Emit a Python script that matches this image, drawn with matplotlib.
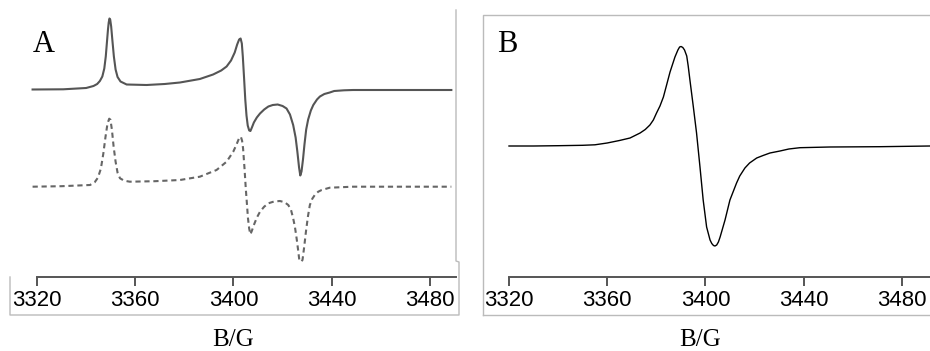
import matplotlib
matplotlib.use("Agg")
import matplotlib.pyplot as plt
from matplotlib.lines import Line2D

plt.rcParams["font.family"] = ["Liberation Sans", "DejaVu Sans"]

# field values (G) and intensities (a.u.)
# panel A, experimental trace (solid)
field_a_exp = [3318.2, 3330.7, 3340.0, 3343.0, 3344.5, 3345.6, 3346.6, 3347.4, 3348.0,
               3348.5, 3348.9, 3349.2, 3349.5, 3349.8, 3350.2, 3350.7, 3351.3, 3352.0,
               3352.8, 3354.0, 3356.5, 3364.6, 3372.0, 3378.2, 3386.3, 3391.7, 3395.0,
               3397.2, 3399.0, 3400.5, 3401.5, 3402.3, 3402.9, 3403.4, 3403.8, 3404.3,
               3404.8, 3405.3, 3405.8, 3406.4, 3406.9, 3407.5, 3408.3, 3409.5, 3410.8,
               3412.5, 3414.2, 3416.0, 3418.0, 3420.0, 3421.6, 3423.0, 3424.3, 3425.3,
               3426.0, 3426.7, 3427.2, 3427.7, 3428.3, 3428.9, 3429.6, 3430.4, 3431.5,
               3432.5, 3434.0, 3435.2, 3437.0, 3439.2, 3441.0, 3445.0, 3448.7, 3488.7]
int_a_exp = [0, 0.2, 1.5, 3.5, 5.5, 8.5, 13, 21, 33,
             48, 60, 67, 71, 70, 63, 49, 33, 20,
             12.5, 8, 5, 4.5, 5.5, 7, 10.5, 15, 19,
             23, 29, 37, 45, 50, 51, 46, 33, 12,
             -10, -26, -36, -41, -41.5, -38, -33, -28, -24,
             -20, -17, -15.5, -15, -16.5, -19, -25, -35.5, -48,
             -62, -78, -86, -82, -70, -55, -40, -30, -21,
             -15.5, -10, -7, -4.5, -3, -1.5, -0.8, -0.5, -0.5]

# panel A, simulated trace (dashed)
field_a_sim = [3318.2, 3330.0, 3341.6, 3343.5, 3344.8, 3346.0, 3347.0, 3347.9, 3348.7,
               3349.4, 3349.9, 3350.5, 3351.2, 3352.0, 3352.8, 3353.8, 3355.5, 3357.8,
               3368.0, 3378.2, 3386.3, 3393.1, 3397.2, 3399.9, 3401.2, 3402.2, 3403.0,
               3403.5, 3403.9, 3404.5, 3405.0, 3405.5, 3405.9, 3406.4, 3406.9, 3407.5,
               3408.3, 3409.5, 3410.8, 3412.5, 3414.2, 3416.5, 3418.9, 3420.8, 3422.3,
               3423.4, 3424.3, 3425.0, 3425.7, 3426.3, 3426.8, 3427.5, 3428.1, 3428.8,
               3429.5, 3430.3, 3431.1, 3432.1, 3433.1, 3434.5, 3435.9, 3439.2, 3448.7,
               3488.7]
int_a_sim = [0, 0.5, 1.7, 4.5, 9, 18, 33, 50, 63,
             68, 67, 57, 40, 25, 14, 8.4, 6, 5,
             5.5, 6.7, 10, 16.7, 25, 35, 42, 48, 50,
             46, 38.4, 18, -1.6, -18, -31.6, -42, -47.6, -44,
             -38.3, -31, -25, -20, -16.6, -14.8, -14.3, -15.5, -18.3,
             -23, -31.6, -40, -51.6, -63, -73.3, -75, -73.3, -60,
             -45, -30, -18.3, -12, -8.3, -5, -3.3, -1, 0,
             0]
sim_offset = -97.2

# panel B
field_b = [3320, 3330, 3340, 3350, 3355, 3360, 3365, 3369.3, 3373.4, 3375.5,
           3377.4, 3378.8, 3380.1, 3381.5, 3382.9, 3384.2, 3385.6, 3387.6, 3388.8,
           3389.5, 3390.1, 3390.8, 3391.5, 3392.4, 3393.0, 3393.7, 3395.1, 3396.4,
           3397.8, 3399.1, 3400.5, 3401.9, 3402.6, 3403.3, 3403.9, 3404.6, 3405.3,
           3406.0, 3408.0, 3410.0, 3412.7, 3414.0, 3416.1, 3418.0, 3420.9, 3423.5,
           3426.3, 3430.4, 3434.0, 3438.5, 3450.7, 3471.0, 3491.5]
int_b = [0, 0, 0.3, 0.7, 1.2, 3, 5.5, 8, 13, 16.5,
         21, 26, 33, 40, 49, 61, 74, 89, 96,
         99, 99.5, 98.5, 96, 90, 80, 66, 39, 13,
         -21, -54, -81, -94, -97.5, -99.5, -100, -99, -96,
         -91, -74, -54, -37, -30, -22, -17, -12, -9.5,
         -7, -5, -3, -1.7, -1, -0.7, 0]

ticks = [3320, 3360, 3400, 3440, 3480]

W, H = 930, 351


def px_box(x0, y0, x1, y1):
    return [x0 / W, 1 - y1 / H, (x1 - x0) / W, (y1 - y0) / H]


def style_axis(ax, lo, hi):
    for s in ["top", "left", "right"]:
        ax.spines[s].set_visible(False)
    ax.spines["bottom"].set_bounds(lo, hi)
    ax.spines["bottom"].set_color("#555555")
    ax.spines["bottom"].set_linewidth(1.4)
    ax.set_yticks([])
    ax.set_xticks(ticks)
    ax.tick_params(axis="x", direction="out", length=6.5, width=1.4, color="#555555",
                   pad=3, labelsize=16)
    ax.patch.set_alpha(0)


fig = plt.figure(figsize=(9.3, 3.51), dpi=100)

# gray frame pieces left over from the original figure
frame = dict(color="#bbbbbb", lw=1.0, transform=fig.transFigure)
def fline(xs, ys):
    fig.add_artist(Line2D([x / W for x in xs], [1 - y / H for y in ys], **frame))

fline([456, 456, 459, 459, 10, 10], [10, 261, 262, 315, 315, 277])
fline([483, 483, 930], [315, 15, 15])
fline([483, 930], [315, 315])

# panel A
ax1 = fig.add_axes(px_box(30, 0, 456, 277))
ax1.plot(field_a_exp, int_a_exp, color="#555555", lw=1.5)
ax1.plot(field_a_sim, [v + sim_offset for v in int_a_sim], color="#666666", lw=1.5,
         dashes=(2.5, 1.8))
ax1.set_xlim(3317.15, 3490.6)
ax1.set_ylim(-187.5, 89.5)
style_axis(ax1, 3320, 3490.6)
fig.text(33 / W, 1 - 52 / H, "A", fontsize=22, family="Liberation Serif",
         va="baseline", ha="left")
fig.text(233 / W, 1 - 340 / H, "B/G", fontsize=18, family="Liberation Serif",
         ha="center", va="center")

# panel B
ax2 = fig.add_axes(px_box(505, 15, 930, 277))
ax2.plot(field_b, int_b, color="black", lw=1.0)
ax2.set_xlim(3318.37, 3491.5)
ax2.set_ylim(-131, 131)
style_axis(ax2, 3320, 3491.5)
fig.text(497 / W, 1 - 52 / H, "B", fontsize=22, family="Liberation Serif",
         va="baseline", ha="left")
fig.text(700 / W, 1 - 340 / H, "B/G", fontsize=18, family="Liberation Serif",
         ha="center", va="center")

fig.savefig("out.png", dpi=100)
